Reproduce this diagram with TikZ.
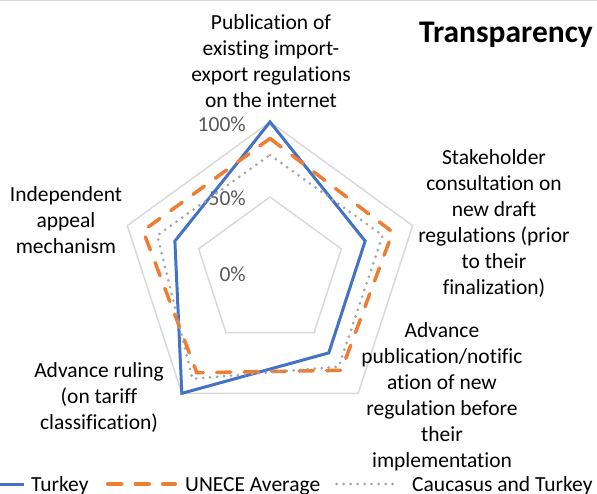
\documentclass[tikz,border=0pt]{standalone}
\usepackage{fontspec}
\setmainfont[Ligatures=NoCommon]{Carlito}
\usepackage{tikz}
\definecolor{turkeyblue}{RGB}{68, 114, 196}
\definecolor{uneceorange}{RGB}{237, 125, 49}
\definecolor{caucasusgray}{RGB}{165, 165, 165}
\definecolor{gridgray}{RGB}{217, 217, 217}
\definecolor{ticktext}{RGB}{89, 89, 89}

\begin{document}
\begin{tikzpicture}[x=1pt, y=1pt, font=\fontsize{21.5}{26}\selectfont,
            gridline/.style={gridgray, line width=1.5},
            turkeyline/.style={turkeyblue, line width=3, line join=miter},
            uneceline/.style={uneceorange, line width=3.5, line cap=round, dash pattern=on 14 off 13.5},
            caucasusline/.style={caucasusgray, line width=3, line cap=round, dash pattern=on 0 off 7},
            axislabel/.style={align=center, inner sep=0pt, anchor=base},
            ticklabel/.style={color=ticktext, inner sep=0pt, anchor=east}]
            \useasboundingbox (0,0) rectangle (597,493);
            \clip              (0,0) rectangle (597,493);
            \draw[gridline]    (0,492.5) -- (597,492.5);
            \begin{scope}[shift={(270,221)}]
            \draw[gridline]     (90:150.0) -- (18:150.0) -- (-54:150.0) -- (-126:150.0) -- (162:150.0) -- cycle;
            \draw[gridline]     (90: 75.0) -- (18: 75.0) -- (-54: 75.0) -- (-126: 75.0) -- (162: 75.0) -- cycle;
            \node[ticklabel] (tick100) at (-24, 148) {100\%};
            \node[ticklabel] (tick50)  at (-24,  74) {50\%};
            \node[ticklabel] (tick0)   at (-24,  -2) {0\%};
            \draw[turkeyline]   (90:150.0) -- (18:100.0) -- (-54:100.0) -- (-126:150.0) -- (162:100.0) -- cycle;
            \draw[uneceline]    (90:133.5) -- (18:129.0) -- (-54:121.5) -- (-126:124.5) -- (162:133.5) -- cycle;
            \draw[caucasusline] (90:117.0) -- (18:118.5) -- (-54:117.0) -- (-126:132.0) -- (162:118.5) -- cycle;
            \end{scope}
            % axis labels (anchored on the last line)
            \node[axislabel] (publication) at (271, 385) {Publication of\\existing import-\\export regulations\\on the internet};
            \node[axislabel] (stakeholder) at (494, 198) {Stakeholder\\consultation on\\new draft\\regulations (prior\\to their\\finalization)};
            \node[axislabel] (advancepub)  at (442,  26) {Advance\\publication/notific\\ation of new\\regulation before\\their\\implementation};
            \node[axislabel] (ruling)      at ( 99,  64) {Advance ruling\\(on tariff\\classification)};
            \node[axislabel] (appeal)      at ( 66, 239) {Independent\\appeal\\mechanism};
            \node[inner sep=0pt, anchor=base, font=\fontsize{31.5}{36}\selectfont\bfseries] (title) at (506, 450) {Transparency};
            % legend
            \draw[turkeyline]   (0, 9) -- (24, 9);
            \node[inner sep=0pt, anchor=base west] (legturkey)   at ( 31, 2) {Turkey};
            \draw[uneceline]    (107.75, 9) -- (175.25, 9);
            \node[inner sep=0pt, anchor=base west] (legunece)    at (185, 2) {UNECE Average};
            \draw[caucasusline] (336.5, 9) -- (397, 9);
            \node[inner sep=0pt, anchor=base west] (legcaucasus) at (412, 2) {Caucasus and Turkey};
            \end{tikzpicture}
\end{document}
